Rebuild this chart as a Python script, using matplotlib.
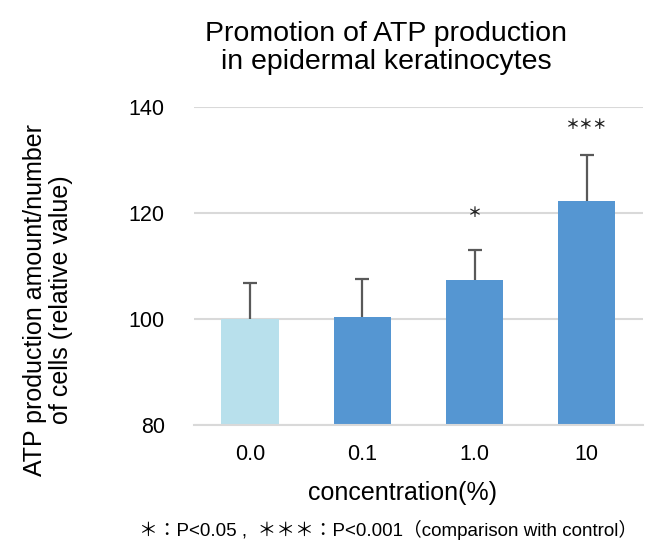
import matplotlib
matplotlib.use("Agg")
import matplotlib.pyplot as plt

# chart data
categories = ["0.0", "0.1", "1.0", "10"]
means = [100.0, 100.3, 107.3, 122.3]
err_upper = [6.7, 7.2, 5.7, 8.5]
marks = ["", "", "＊", "＊＊＊"]
mark_y = [None, None, 120.0, 136.6]

plt.rcParams["font.family"] = ["Liberation Sans", "Noto Sans CJK JP", "DejaVu Sans"]

LIGHT = "#B8E0EC"
BLUE = "#5596D2"
GRID = "#D9D9D9"
ERR = "#595959"

fig = plt.figure(figsize=(6.52, 5.51), dpi=100)
ax = fig.add_axes([0.2975, 0.2287, 0.6885, 0.5777])

x = list(range(len(categories)))
colors = [LIGHT] + [BLUE] * (len(categories) - 1)
ax.bar(x, means, width=0.51, color=colors, zorder=2)

# upper error bars only, cap at the top end
tops = [m + e for m, e in zip(means, err_upper)]
ax.vlines(x, means, tops, color=ERR, linewidth=1.6, zorder=3)
ax.plot(x, tops, linestyle="none", marker="_", markersize=10,
        markeredgewidth=1.6, color=ERR, zorder=3)

for xi, m, my in zip(x, marks, mark_y):
    if m:
        ax.text(xi, my, m, ha="center", va="center", fontsize=10,
                fontweight="bold", color="#222222", family=["Noto Sans CJK JP"])

ax.set_ylim(80, 140)
ax.set_xlim(-0.5, 3.5)
ax.set_yticks([80, 100, 120, 140])
ax.set_xticks(x)
ax.set_xticklabels(categories)
ax.tick_params(length=0, labelsize=15.5)
ax.tick_params(axis="x", pad=14)
ax.tick_params(axis="y", pad=21)
ax.yaxis.grid(True, color=GRID, linewidth=1.5, zorder=0)
ax.set_axisbelow(True)
for side in ["top", "right", "left"]:
    ax.spines[side].set_visible(False)
ax.spines["bottom"].set_color(GRID)
ax.spines["bottom"].set_linewidth(1.5)

fig.text(0.592, 0.913, "Promotion of ATP production\nin epidermal keratinocytes",
         ha="center", va="center", fontsize=20.5, linespacing=1.12)
fig.text(0.074, 0.456, "ATP production amount/number\nof cells (relative value)",
         ha="center", va="center", rotation=90, fontsize=18, linespacing=1.1)
fig.text(0.617, 0.105, "concentration(%)", ha="center", va="center", fontsize=18)
fig.text(0.595, 0.038, "＊：P<0.05 ,  ＊＊＊：P<0.001（comparison with control）",
         ha="center", va="center", fontsize=13.5)

fig.savefig("out.png", dpi=100)
